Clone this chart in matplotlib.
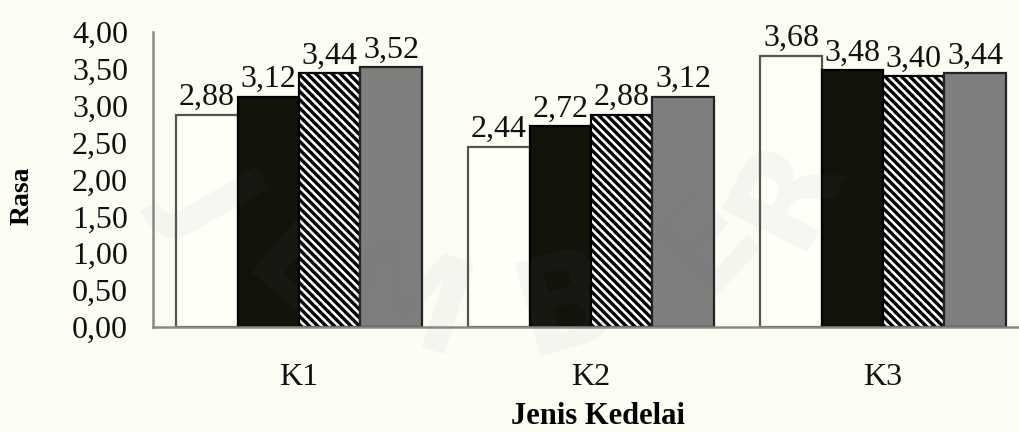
import numpy as np
import matplotlib.pyplot as plt

# Skor rasa per jenis kedelai (4 perlakuan)
kedelai = ['K1', 'K2', 'K3']
perl_1 = [2.88, 2.44, 3.68]
perl_2 = [3.12, 2.72, 3.48]
perl_3 = [3.44, 2.88, 3.40]
perl_4 = [3.52, 3.12, 3.44]
ytick_vals = [0.0, 0.5, 1.0, 1.5, 2.0, 2.5, 3.0, 3.5, 4.0]

plt.rcParams['font.family'] = ['Liberation Serif', 'DejaVu Serif']
plt.rcParams['hatch.linewidth'] = 2.4

fig = plt.figure(figsize=(10.19, 4.32), dpi=100)
fig.patch.set_facecolor('#fdfdf4')
ax = fig.add_axes([153/1019, 105/432, 876/1019, 295/432])
ax.set_facecolor('none')

x = np.arange(len(kedelai))
w = 0.21
series = [perl_1, perl_2, perl_3, perl_4]
gaya = [
    dict(color='#fffff8', edgecolor='#55554c', linewidth=1.6),
    dict(color='#13130b', edgecolor='#000000', linewidth=1.6),
    dict(color='#ffffff', edgecolor='#000000', linewidth=1.6, hatch='\\\\\\\\'),
    dict(color='#7e7f7d', edgecolor='#222222', linewidth=1.6),
]

for i, (vals, g) in enumerate(zip(series, gaya)):
    pos = x + (i - 1.5) * w
    bars = ax.bar(pos, vals, w, zorder=2, **g)
    for b, v in zip(bars, vals):
        ax.annotate(f'{v:.2f}'.replace('.', ','),
                    (b.get_x() + b.get_width() / 2, v),
                    xytext=(0, 2), textcoords='offset points',
                    ha='center', va='bottom', fontsize=23, color='#111111')

ax.set_xlim(-0.5, 2.5)
ax.set_ylim(0, 4)
ax.set_yticks(ytick_vals)
ax.set_yticklabels([f'{v:.2f}'.replace('.', ',') for v in ytick_vals])
ax.set_xticks(x)
ax.set_xticklabels(kedelai)
ax.tick_params(axis='y', length=0, pad=18, labelsize=23, labelcolor='#111111')
ax.tick_params(axis='x', length=0, pad=26, labelsize=23, labelcolor='#111111')

for s in ['top', 'right']:
    ax.spines[s].set_visible(False)
for s in ['left', 'bottom']:
    ax.spines[s].set_color('#8a8a84')
    ax.spines[s].set_linewidth(1.8)

ax.text(0.508, -0.305, 'Jenis Kedelai', transform=ax.transAxes,
        ha='center', va='center', fontsize=22, fontweight='bold')
ax.text(-0.1495, 0.444, 'Rasa', transform=ax.transAxes, rotation=90,
        ha='center', va='center', fontsize=20, fontweight='bold')

# logo samar di belakang grafik
huruf = ['J', 'E', 'M', 'B', 'E', 'R']
hx = [213, 297, 404, 567, 707, 786]
hy = [200, 273, 307, 307, 240, 190]
rot = [-60, -40, -18, 16, 47, 63]
for h, px, py, r in zip(huruf, hx, hy, rot):
    fig.text(px / 1019, 1 - py / 432, h, rotation=r, ha='center', va='center',
             fontsize=95, fontweight='bold', family='DejaVu Sans',
             color='#5a7896', alpha=0.06, zorder=10)

fig.savefig('out.png', dpi=100, facecolor=fig.get_facecolor())
